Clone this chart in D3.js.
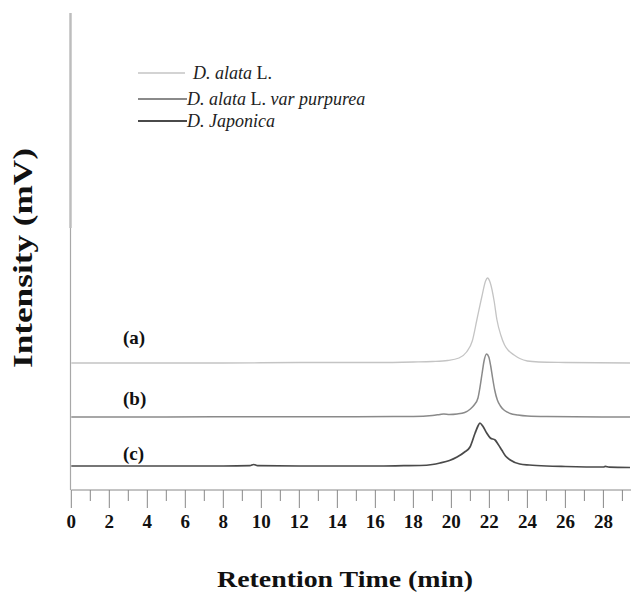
<!DOCTYPE html>
<html>
<head>
<meta charset="utf-8">
<script src="https://cdn.jsdelivr.net/npm/d3@7"></script>
<style>
  body { margin: 0; background: #fff; }
  text { font-family: "Liberation Serif", "Times New Roman", Times, serif; }
</style>
</head>
<body>
<svg id="chart"></svg>
<script>
var width = 631
var height = 593

// retention time (min), height above each trace's baseline (mV, arbitrary)
var traceA = [[0,0],[4,0],[8,0],[12,0.5],[16,0.5],[18,1],[19,1.5],[19.8,2.5],[20.4,5],[20.8,11],[21.1,22],[21.34,43],
  [21.6,66],[21.8,82],[21.9,85],[22.05,80],[22.25,62],[22.4,43],[22.6,28],[22.8,18],[22.98,13],[23.3,8],[23.6,4.5],
  [24,2],[24.6,1],[26,0.5],[29.4,0]]
var traceB = [[0,0],[5,0],[10,0.3],[15,0.3],[18,0.5],[19,1.5],[19.4,2.5],[19.6,3],[19.9,2.5],[20.3,3],[20.7,4.5],[21.0,8],
  [21.2,12],[21.4,19],[21.5,29],[21.62,44],[21.72,56],[21.85,63],[21.97,60],[22.07,51],[22.17,39],[22.28,27],[22.42,17],
  [22.58,11],[22.8,6.5],[23.1,3.5],[23.5,2],[24,1],[25,0.5],[29.4,0]]
var traceC = [[0,0],[4,0],[8,0],[9.4,0.3],[9.6,1.5],[9.8,0.3],[12,0],[16,0],[17.5,0.3],[18.35,0.5],[19.0,1.5],[19.4,3],
  [19.9,5.5],[20.3,9],[20.7,14],[20.98,19],[21.25,33],[21.4,40],[21.5,43],[21.65,40],[21.86,33],[22.05,28],[22.3,26],
  [22.45,22],[22.65,16],[22.85,10],[23.1,6],[23.6,2],[24.1,1],[25,0],[26,-0.5],[28,-1],[28.1,-0.3],[28.3,-1.2],[29.4,-1.5]]

var traces = [traceA, traceB, traceC]
var offsets = [127, 73, 24]           // vertical stacking of traces (mV)
var traceLabels = ["(a)", "(b)", "(c)"]
var traceLabelY = [146, 85, 30]
var traceColors = ["#c4c4c4", "#8a8a8a", "#4a4a4a"]
var traceWidths = [1.3, 1.5, 1.7]
var legendNames = [["D. alata", " L.", ""], ["D. alata", " L. ", "var purpurea"], ["D. Japonica", "", ""]]
var xTicks = d3.range(0, 30, 2)
var xMinor = d3.range(1, 30, 2)

var svg = d3.select("#chart").attr("width", width).attr("height", height)

var x = d3.scaleLinear().domain([0, 29.4]).range([71.3, 630])
var y = d3.scaleLinear().domain([0, 477]).range([490, 13])

// y axis (upper part is a lighter, heavier stroke in the original)
svg.append("line").attr("x1", 70.5).attr("x2", 70.5).attr("y1", y(0)).attr("y2", y(477))
  .attr("stroke", "#a8a8a8").attr("stroke-width", 1.2)
svg.append("line").attr("x1", 70.5).attr("x2", 70.5).attr("y1", 228).attr("y2", y(477))
  .attr("stroke", "#bdbdbd").attr("stroke-width", 2.4)

// x axis
svg.append("line").attr("x1", x(0)).attr("x2", width).attr("y1", y(0)).attr("y2", y(0))
  .attr("stroke", "#888").attr("stroke-width", 1)
svg.selectAll(".major").data(xTicks).enter().append("line")
  .attr("x1", d => x(d)).attr("x2", d => x(d)).attr("y1", y(0)).attr("y2", y(0) + 18)
  .attr("stroke", "#888").attr("stroke-width", 1)
svg.selectAll(".minor").data(xMinor).enter().append("line")
  .attr("x1", d => x(d)).attr("x2", d => x(d)).attr("y1", y(0)).attr("y2", y(0) + 11)
  .attr("stroke", "#888").attr("stroke-width", 1)
svg.selectAll(".ticklab").data(xTicks).enter().append("text")
  .attr("x", d => x(d)).attr("y", 528).attr("text-anchor", "middle")
  .attr("font-size", "19px").attr("font-weight", "bold").attr("fill", "#111")
  .text(d => d)

// traces
var line = d3.line().curve(d3.curveMonotoneX)
traces.forEach(function(t, i) {
  svg.append("path")
    .attr("d", line(t.map(p => [x(p[0]), y(p[1] + offsets[i])])))
    .attr("fill", "none").attr("stroke", traceColors[i]).attr("stroke-width", traceWidths[i])
  svg.append("text").attr("x", 123).attr("y", y(traceLabelY[i]))
    .attr("font-size", "19px").attr("font-weight", "bold").attr("fill", "#111")
    .text(traceLabels[i])
})

// legend
var legY = [73, 99, 121]
legendNames.forEach(function(n, i) {
  svg.append("line").attr("x1", 138).attr("x2", i == 0 ? 185 : 187).attr("y1", legY[i]).attr("y2", legY[i])
    .attr("stroke", traceColors[i]).attr("stroke-width", traceWidths[i] + 0.3)
  var t = svg.append("text").attr("x", i == 0 ? 193 : 187).attr("y", legY[i] + 6)
    .attr("font-size", "18px").attr("fill", "#222")
  t.append("tspan").attr("font-style", "italic").text(n[0])
  t.append("tspan").text(n[1])
  t.append("tspan").attr("font-style", "italic").text(n[2])
})

// axis titles
svg.append("text").attr("x", 345).attr("y", 587).attr("text-anchor", "middle")
  .attr("font-size", "24px").attr("font-weight", "bold").attr("fill", "#111")
  .attr("textLength", 256).attr("lengthAdjust", "spacingAndGlyphs")
  .text("Retention Time (min)")
svg.append("text").attr("transform", "translate(32,258) rotate(-90)").attr("text-anchor", "middle")
  .attr("font-size", "28px").attr("font-weight", "bold").attr("fill", "#111")
  .attr("textLength", 220).attr("lengthAdjust", "spacingAndGlyphs")
  .text("Intensity (mV)")
</script>
</body>
</html>
